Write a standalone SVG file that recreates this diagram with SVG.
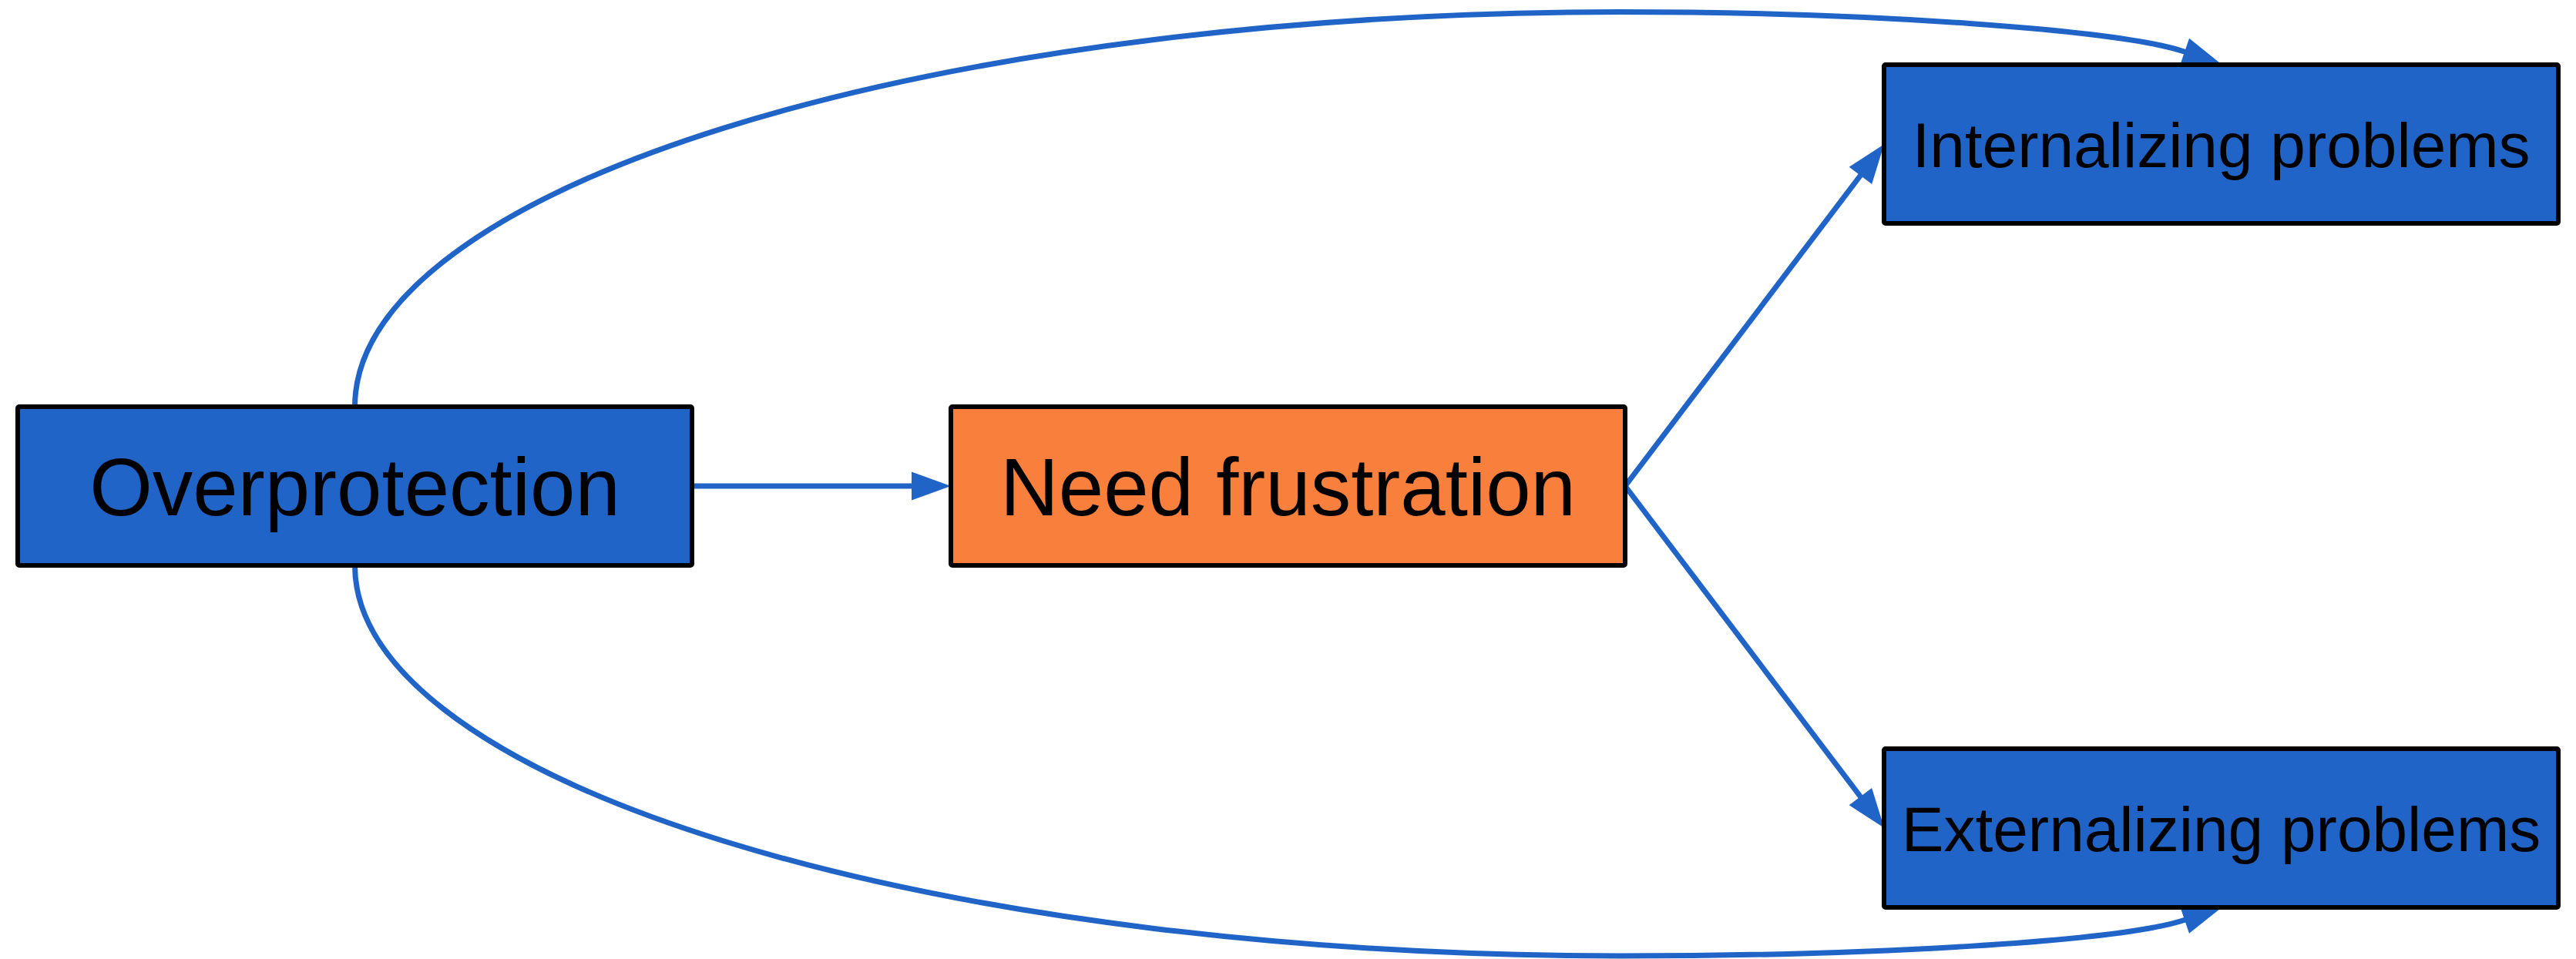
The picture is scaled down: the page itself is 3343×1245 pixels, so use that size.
<svg xmlns="http://www.w3.org/2000/svg" width="3343" height="1245" viewBox="0 0 3343 1245">
<defs>
<style>
.box{stroke:#000;stroke-width:6;stroke-linejoin:round}
.blue{fill:#2064C8}
.orange{fill:#F9803C}
.lbl{font-family:"Liberation Sans",Arial,sans-serif;fill:#000;text-anchor:middle}
.big{font-size:105px}
.small{font-size:82px}
.edge{fill:none;stroke:#2064C8;stroke-width:7}
</style>
<marker id="arrow" markerUnits="userSpaceOnUse" markerWidth="52" markerHeight="38" refX="1" refY="18.5" orient="auto" viewBox="0 0 52 37" overflow="visible">
<path d="M0,0 L51,18.5 L0,37 z" fill="#2064C8"/>
</marker>
</defs>
<rect width="3343" height="1245" fill="#fff"/>
<g id="connectors">
<path class="edge" d="M898,631 L1184,631" marker-end="url(#arrow)"/>
<path class="edge" d="M2109,631 L2415,227" marker-end="url(#arrow)"/>
<path class="edge" d="M2109,631 L2415,1035" marker-end="url(#arrow)"/>
<path class="edge" d="M460.5,528 A1641.5,512.5 0 0 1 2102,15.5 C2420,15.5 2750,38 2836,67.5" marker-end="url(#arrow)"/>
<path class="edge" d="M460.5,734 A1641.5,507 0 0 0 2102,1241 C2420,1241 2750,1223 2836,1194" marker-end="url(#arrow)"/>
</g>
<g id="overprotection">
<rect class="box blue" x="23" y="528" width="875" height="206" rx="2"/>
<text class="lbl big" x="460.5" y="669">Overprotection</text>
</g>
<g id="need-frustration">
<rect class="box orange" x="1234" y="528" width="875" height="206" rx="2"/>
<text class="lbl big" x="1671.5" y="669">Need frustration</text>
</g>
<g id="internalizing">
<rect class="box blue" x="2445" y="84" width="875" height="206" rx="2"/>
<text class="lbl small" x="2882.5" y="216.5">Internalizing problems</text>
</g>
<g id="externalizing">
<rect class="box blue" x="2445" y="972" width="875" height="206" rx="2"/>
<text class="lbl small" x="2882.5" y="1104.5">Externalizing problems</text>
</g>
</svg>
